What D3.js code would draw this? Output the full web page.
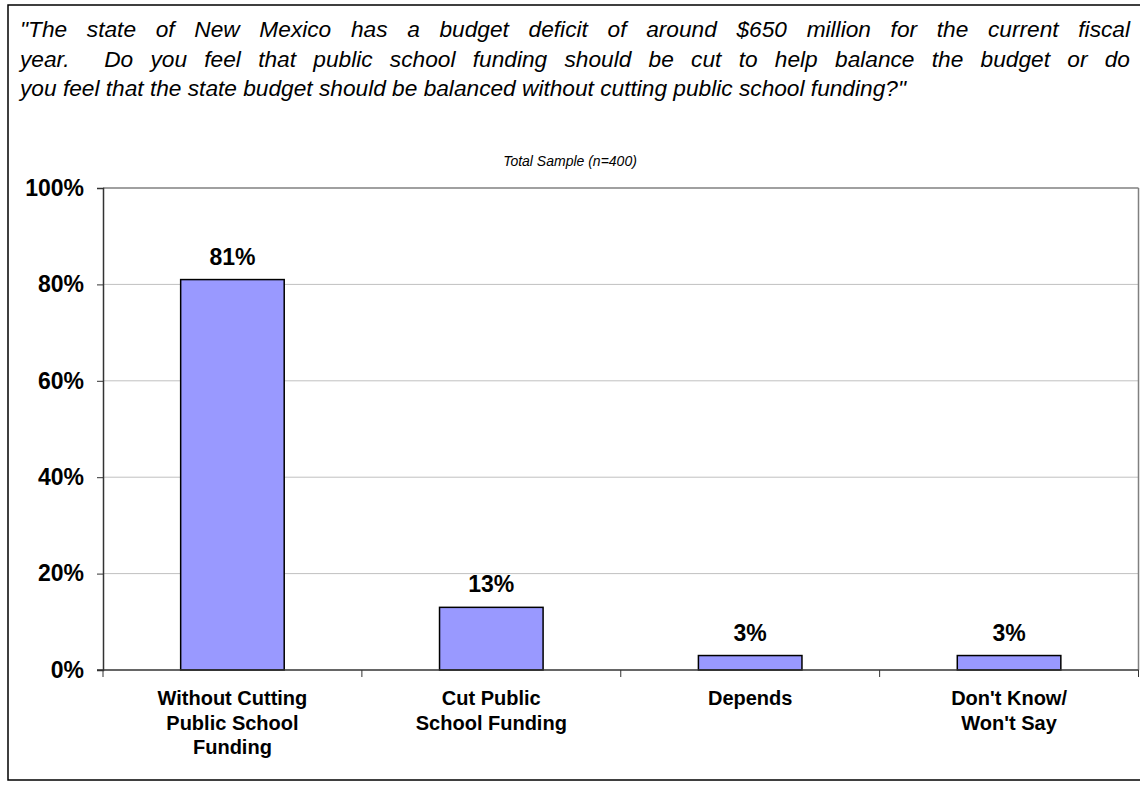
<!DOCTYPE html>
<html>
<head>
<meta charset="utf-8">
<script src="https://cdn.jsdelivr.net/npm/d3@7"></script>
<style>
  html, body { margin: 0; padding: 0; background: #fff; }
  svg { display: block; font-family: "Liberation Sans", Arial, sans-serif; }
</style>
</head>
<body>
<svg id="chart" width="1140" height="785"></svg>
<script>
// Survey question, sample note and responses
const questionLines = [
  "\"The state of New Mexico has a budget deficit of around $650 million for the current fiscal",
  "year.  Do you feel that public school funding should be cut to help balance the budget or do",
  "you feel that the state budget should be balanced without cutting public school funding?\""
];
const sampleNote = "Total Sample (n=400)";
const categories = [
  ["Without Cutting", "Public School", "Funding"],
  ["Cut Public", "School Funding"],
  ["Depends"],
  ["Don't Know/", "Won't Say"]
];
const values = [81, 13, 3, 3];
const yTicks = [0, 20, 40, 60, 80, 100];

const svg = d3.select("#chart");

// outer frame
svg.append("rect")
  .attr("x", 8).attr("y", 5).attr("width", 1145).attr("height", 775)
  .attr("fill", "#fff").attr("stroke", "#000").attr("stroke-width", 1.5);

// question text: full lines are justified by widening the word gaps
const textX = 20, textW = 1110;
const q = svg.append("g").attr("font-style", "italic").attr("font-size", 22.7).attr("fill", "#000");
questionLines.forEach((line, i) => {
  const yPos = 37 + i * 29.5;
  const last = i === questionLines.length - 1;
  if (last) {
    q.append("text").attr("x", textX).attr("y", yPos).style("white-space", "pre").text(line);
    return;
  }
  const words = line.split(" ");
  const nodes = words.map(w => q.append("text").attr("y", yPos).text(w));
  const widths = nodes.map(n => w = n.node().getComputedTextLength());
  const gaps = words.length - 1;
  const gap = (textW - d3.sum(widths)) / gaps;
  let cx = textX;
  nodes.forEach((n, k) => {
    n.attr("x", cx);
    cx += widths[k] + gap;
  });
});

svg.append("text")
  .attr("x", 570).attr("y", 166)
  .attr("text-anchor", "middle")
  .attr("font-style", "italic").attr("font-size", 14)
  .text(sampleNote);

// plot area
const plotLeft = 103, plotRight = 1138.5, plotTop = 188, plotBottom = 670;

const x = d3.scaleBand()
  .domain(d3.range(categories.length))
  .range([plotLeft, plotRight])
  .paddingInner(0.6).paddingOuter(0.3);
const y = d3.scaleLinear().domain([0, 100]).range([plotBottom, plotTop]);

// gridlines
svg.append("g")
  .selectAll("line")
  .data(yTicks.filter(d => d > 0))
  .join("line")
  .attr("x1", plotLeft).attr("x2", plotRight)
  .attr("y1", d => y(d)).attr("y2", d => y(d))
  .attr("stroke", d => d === 100 ? "#808080" : "#c0c0c0")
  .attr("stroke-width", d => d === 100 ? 1.5 : 1);

// right border of plot area
svg.append("line")
  .attr("x1", plotRight).attr("x2", plotRight)
  .attr("y1", plotTop).attr("y2", plotBottom)
  .attr("stroke", "#808080").attr("stroke-width", 1.5);

// bars
svg.append("g")
  .selectAll("rect")
  .data(values)
  .join("rect")
  .attr("x", (d, i) => x(i))
  .attr("width", x.bandwidth())
  .attr("y", d => y(d))
  .attr("height", d => y(0) - y(d))
  .attr("fill", "#9999ff")
  .attr("stroke", "#000")
  .attr("stroke-width", 1.5);

// value labels
svg.append("g")
  .selectAll("text")
  .data(values)
  .join("text")
  .attr("x", (d, i) => x(i) + x.bandwidth() / 2)
  .attr("y", d => y(d) - 15)
  .attr("text-anchor", "middle")
  .attr("font-weight", "bold").attr("font-size", 23)
  .text(d => d + "%");

// y axis
const yAxis = svg.append("g")
  .attr("transform", `translate(${plotLeft},0)`)
  .call(d3.axisLeft(y).tickValues(yTicks).tickFormat(d => d + "%").tickSize(6).tickPadding(13));
yAxis.select(".domain").attr("stroke", "#333").attr("stroke-width", 1.5);
yAxis.selectAll(".tick line").attr("stroke", "#333");
yAxis.selectAll(".tick text")
  .attr("font-family", "'Liberation Sans', Arial, sans-serif")
  .attr("font-weight", "bold").attr("font-size", 23).attr("fill", "#000");

// x axis: category boundaries as ticks
const bounds = d3.range(categories.length + 1).map(i => plotLeft + i * (plotRight - plotLeft) / categories.length);
svg.append("line")
  .attr("x1", plotLeft - 6).attr("x2", plotRight)
  .attr("y1", plotBottom).attr("y2", plotBottom)
  .attr("stroke", "#333").attr("stroke-width", 1.5);
svg.append("g")
  .selectAll("line")
  .data(bounds)
  .join("line")
  .attr("x1", d => d).attr("x2", d => d)
  .attr("y1", plotBottom).attr("y2", plotBottom + 7)
  .attr("stroke", "#333").attr("stroke-width", 1);

// category labels
const cl = svg.append("g")
  .attr("font-weight", "bold").attr("font-size", 20).attr("text-anchor", "middle");
categories.forEach((lines, i) => {
  const cx = x(i) + x.bandwidth() / 2;
  const t = cl.append("text").attr("x", cx).attr("y", 705);
  lines.forEach((s, j) => {
    t.append("tspan").attr("x", cx).attr("dy", j === 0 ? 0 : 24.5).text(s);
  });
});
</script>
</body>
</html>
